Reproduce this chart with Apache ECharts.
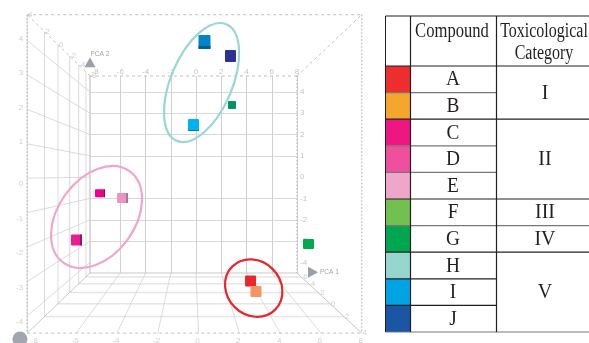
<!DOCTYPE html>
<html><head><meta charset="utf-8">
<style>html,body{margin:0;padding:0;background:#fff}#c{width:589px;height:343px}</style>
<script src="https://cdn.jsdelivr.net/npm/echarts@6/dist/echarts.min.js"></script>
</head><body><div id="c"></div>
<script>
// ---- data ----
const pca1Ticks = [-8,-6,-4,-2,0,2,4,6,8];
const pca2Ticks = [4,3,2,1,0,-1,-2,-3,-4];
const depthTicks = [-8,-6,-4,-2,0,2,4];
const depthFractions = [0,0.065,0.18,0.325,0.51,0.725,1];
const markPca1 = [0.67,2.73,2.85,-0.2,-7.61,-5.82,-9.47,8.91,4.32,4.75];
const markPca2 = [6.35,5.69,3.39,2.45,-0.75,-0.98,-2.95,-3.14,-4.88,-5.37];
const markFace = ['#0083c8','#2e3192','#009460','#00b2f0','#ec008c','#ee92c0','#ec1c8e','#00a94f','#e8262c','#f29560'];
const markSide = ['#005f92',null,null,'#0080b0','#8a0c5c','#9a7aa0','#7a2070',null,null,null];
const markW = [12,11,8,11,10,11,11,11,11,11];
const markH = [14,12,8,12,8,10,11,10,11,11];
const sideRight = [0,0,0,0,1,2,2,0,0,0];
const sideBottom = [3,0,0,1,0,0,0,0,0,0];
const ellipseCentre1 = [0.44,-7.88,4.57];
const ellipseCentre2 = [4.44,-1.87,-5.21];
const ellipseColor = ['#96d8d2','#f0a6cb','#e8262c'];
const ellipseA = [63.3,56.5,30.4];
const ellipseB = [30.7,38.4,26.9];
const ellipseTilt = [-23,-36,45];
const compounds = ['A','B','C','D','E','F','G','H','I','J'];
const compoundColors = ['#ee2e2e','#f5a62c','#ee1680','#ef509e','#f0a6cb','#72c04f','#00a650','#97d6cf','#00a4e4','#1b56a5'];
const categories = [['I',0,2],['II',2,5],['III',5,6],['IV',6,7],['V',7,10]];

// ---- box geometry in PCA units ----
const xMin=-8.4,xMax=8,yMin=-4.5,yMax=4.75;
const cx=-0.325,cy=0.08,grow=0.616;
const proj=(x,y,t)=>[cx+(1+grow*t)*(x-cx),cy+(1+grow*t)*(y-cy)];
const thin=[],pale=[],floorPale=[];
pca2Ticks.forEach(y=>thin.push([proj(xMin,y,0),proj(xMin,y,1)]));
depthFractions.forEach((t,i)=>{
  (i===3?pale:thin).push([proj(xMin,yMax,t),proj(xMin,yMin,t)]);
  if(i>0&&i<6)floorPale.push([proj(xMin,yMin,t),proj(xMax,yMin,t)]);
});
pca1Ticks.slice(1,-1).forEach(x=>thin.push([proj(x,yMin,0),proj(x,yMin,1)]));
const solidEdges=[[proj(xMin,yMax,0),proj(xMin,yMin,0)],[proj(xMin,yMin,0),proj(xMax,yMin,0)],
  [proj(xMin,yMin,0),proj(xMin,yMin,1)],[proj(xMax,yMin,0),proj(xMax,yMin,1)]];
const dashEdges=[[proj(xMin,yMax,0),proj(xMax,yMax,0)],[proj(xMin,yMax,1),proj(xMax,yMax,1)],
  [proj(xMin,yMin,1),proj(xMax,yMin,1)],[proj(xMin,yMax,0),proj(xMin,yMax,1)],[proj(xMax,yMax,0),proj(xMax,yMax,1)]];
const dotEdges=[[proj(xMax,yMax,0),proj(xMax,yMin,0)],[proj(xMin,yMax,1),proj(xMin,yMin,1)],[proj(xMax,yMax,1),proj(xMax,yMin,1)]];

function lineS(list,color,width,dash){return {type:'custom',clip:false,silent:true,animation:false,z:1,
  data:list.map(s=>[s[0][0],s[0][1],s[1][0],s[1][1]]),encode:{x:[0,2],y:[1,3]},
  renderItem:(params,api)=>{
    const a=api.coord([api.value(0),api.value(1)]),b=api.coord([api.value(2),api.value(3)]);
    return {type:'line',shape:{x1:a[0],y1:a[1],x2:b[0],y2:b[1]},style:{stroke:color,lineWidth:width,lineDash:dash||null,fill:null}};
  }};}
function textS(pts,texts,pos,offset,color,size){return {type:'scatter',data:pts,symbolSize:0.01,clip:false,silent:true,animation:false,z:2,
  label:{show:true,position:pos||'inside',offset:offset||[0,0],color:color||'#c4c4c4',fontSize:size||8,fontFamily:'Liberation Sans',
    formatter:p=>texts[p.dataIndex]}};}

// ---- table ----
const tL=385.5,tC1=410.5,tC2=496.5,tR=589,tT=16,tH=66,rowH=26.6;
const g=[];
const rowY=i=>tH+i*rowH;
const serif='Liberation Serif';
function line(x1,y1,x2,y2,c,w){g.push({type:'line',shape:{x1,y1,x2,y2},style:{stroke:c,lineWidth:w},silent:true});}
function txt(s,x,y,size,sc){g.push({type:'text',x,y,scaleX:sc,silent:true,style:{text:s,fontFamily:serif,fontSize:size,fill:'#231f20',align:'center',verticalAlign:'middle'}});}
compounds.forEach((c,i)=>{
  g.push({type:'rect',shape:{x:tL,y:rowY(i),width:tC1-tL,height:rowH},style:{fill:compoundColors[i]},silent:true});
  txt(c,(tC1+tC2)/2-0.5,rowY(i)+rowH/2+0.5,21,0.92);
});
const catEnds=categories.map(c=>c[2]);
for(let i=0;i<=10;i++){
  const strong=i===0||catEnds.includes(i)&&i!==6&&i!==10;
  const colr=strong?'#231f20':'#777';
  line(tL,rowY(i),tC2,rowY(i),(i===1||i===3||i===4)?'#777':(i===10||i===6?'#777':'#231f20'),1.2);
  if(i===0||catEnds.includes(i))line(tC2,rowY(i),tR,rowY(i),colr,1.2);
}
line(tL,tT,tR,tT,'#231f20',1.2);
line(tL,tT,tL,rowY(10),'#231f20',1);
line(tC1,tT,tC1,rowY(10),'#231f20',1.2);
line(tC2,tT,tC2,rowY(10),'#231f20',1.2);
txt('Compound',452,32,20,0.83);
txt('Toxicological',544,32,20,0.8);
txt('Category',544,53.5,20,0.8);
categories.forEach(c=>txt(c[0],545,(rowY(c[1])+rowY(c[2]))/2+0.5,21,0.95));

const renderMark=(params,api)=>{
  const i=params.dataIndex,p=api.coord([api.value(0),api.value(1)]);
  const w=markW[i],h=markH[i],x=p[0]-w/2,y=p[1]-h/2,ch=[];
  ch.push({type:'rect',shape:{x,y,width:w,height:h,r:1},style:{fill:markFace[i]}});
  if(sideRight[i])ch.push({type:'rect',shape:{x:x+w-sideRight[i],y,width:sideRight[i],height:h},style:{fill:markSide[i]}});
  if(sideBottom[i])ch.push({type:'rect',shape:{x,y:y+h-sideBottom[i],width:w,height:sideBottom[i]},style:{fill:markSide[i]}});
  return {type:'group',children:ch};
};
const renderEllipse=(params,api)=>{
  const i=params.dataIndex,p=api.coord([api.value(0),api.value(1)]);
  return {type:'ellipse',x:p[0],y:p[1],rotation:ellipseTilt[i]*Math.PI/180,
    shape:{cx:0,cy:0,rx:ellipseB[i],ry:ellipseA[i]},
    style:{fill:'none',stroke:ellipseColor[i],lineWidth:2.2}};
};
const depthLabelIdx=depthFractions.map((t,i)=>i).filter(i=>depthTicks[i]!==-6);

const option={
  animation:false,
  grid:{left:90,top:76,width:207,height:197,containLabel:false},
  xAxis:{type:'value',min:xMin,max:xMax,position:'top',
    axisLine:{show:false},
    axisTick:{show:false,customValues:pca1Ticks.slice(1)},
    axisLabel:{customValues:pca1Ticks,margin:0,color:'#c4c4c4',fontSize:8,fontFamily:'Liberation Sans',showMinLabel:true,showMaxLabel:true},
    splitLine:{show:true,lineStyle:{color:'#d0d0d0',width:1}}},
  yAxis:{type:'value',min:yMin,max:yMax,position:'right',
    axisLine:{show:false},
    axisTick:{show:false,customValues:pca2Ticks.filter(v=>v!==0&&v!==-4)},
    axisLabel:{customValues:pca2Ticks,margin:3,color:'#c4c4c4',fontSize:8,fontFamily:'Liberation Sans'},
    splitLine:{show:true,lineStyle:{color:'#d8d8d8',width:1.2}}},
  series:[
    lineS(floorPale,'#e6e6e6',1.5),
    lineS(pale,'#e2e2e2',1.5),
    lineS(thin,'#d2d2d2',0.8),
    lineS(solidEdges,'#c8c8c8',1),
    lineS(dashEdges,'#c0c0c0',1,[3,3]),
    lineS(dotEdges,'#c4c4c4',1.5,[1.5,2]),
    textS(pca2Ticks.filter(y=>y>0).map(y=>proj(xMin,y,1)),pca2Ticks.filter(y=>y>0).map(String),'left',[1,-2]),
    textS(pca2Ticks.filter(y=>y<=0).map(y=>proj(xMin,y,1)),pca2Ticks.filter(y=>y<=0).map(String),'left',[1,6]),
    textS(pca1Ticks.map(x=>proj(x,yMin,1)),pca1Ticks.map(String),'bottom',[-1,-1]),
    textS(depthLabelIdx.map(i=>proj(xMin,yMax,depthFractions[i])),depthLabelIdx.map(i=>String(depthTicks[i])),'inside',[3,0]),
    textS(depthFractions.slice(1).map(t=>proj(xMax,yMin,t)),depthTicks.slice(1).map(String),'inside',[3,0]),
    {type:'scatter',clip:false,silent:true,animation:false,z:3,symbol:'triangle',symbolSize:[11,10],
      data:[{value:[xMin,5.4],symbolRotate:0,label:{offset:[-10,-8]}},{value:[9.27,yMin+0.04],symbolRotate:-90,label:{offset:[-3,0]}}],itemStyle:{color:'#7f8894'},
      label:{show:true,position:'right',color:'#8a8a8a',fontSize:6.5,fontFamily:'Liberation Sans',
        formatter:p=>['PCA 2','PCA 1'][p.dataIndex]}},
    {type:'scatter',clip:false,silent:true,animation:false,z:3,symbolSize:15,data:[[-13.95,-7.6]],itemStyle:{color:'#8a9199'}},
    {type:'custom',clip:false,silent:true,animation:false,z:4,renderItem:renderEllipse,
      data:ellipseCentre1.map((x,i)=>[x,ellipseCentre2[i]]),encode:{x:0,y:1}},
    {type:'custom',clip:false,silent:true,animation:false,z:5,renderItem:renderMark,
      data:markPca1.map((x,i)=>[x,markPca2[i]]),encode:{x:0,y:1}}
  ],
  graphic:g
};
const chart=echarts.init(document.getElementById('c'),null,{renderer:'canvas'});
chart.setOption(option);
</script></body></html>
